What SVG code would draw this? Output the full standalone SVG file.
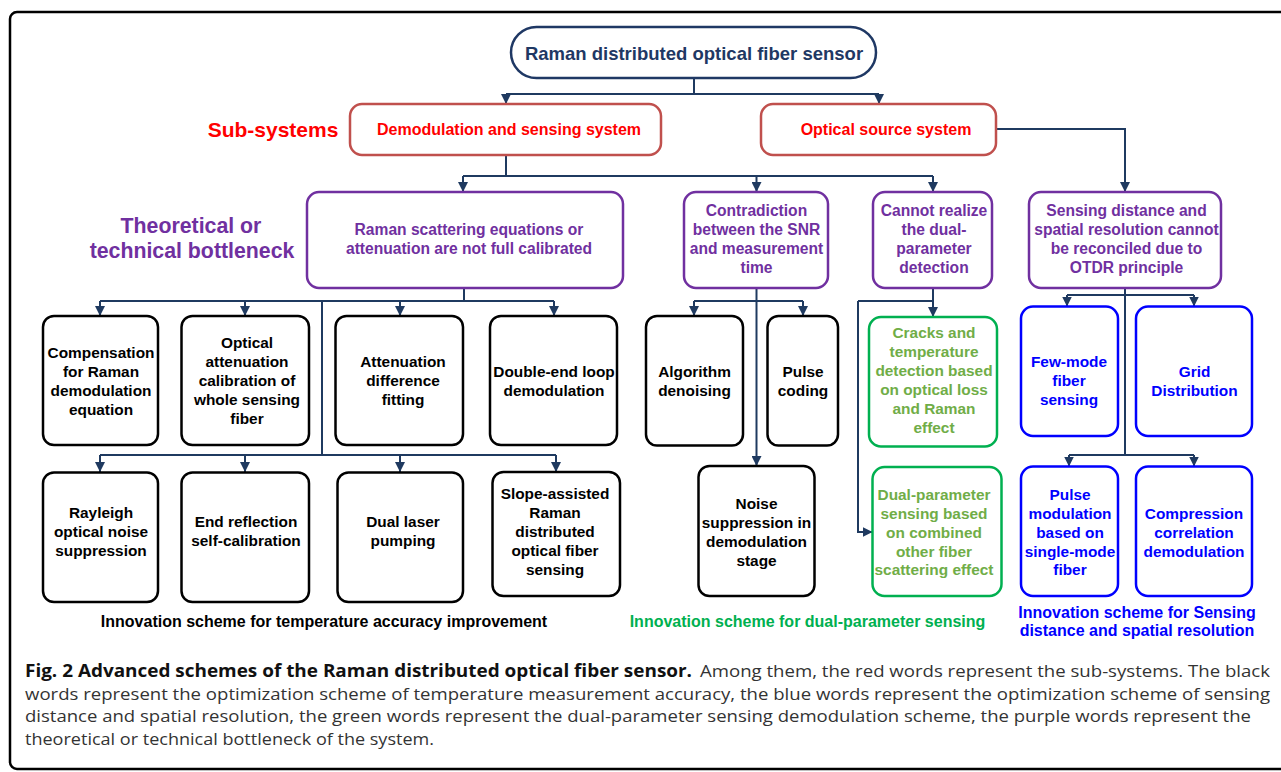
<svg xmlns="http://www.w3.org/2000/svg" width="1281" height="772" viewBox="0 0 1281 772">
  <defs>
    <marker id="arrow" markerUnits="userSpaceOnUse" markerWidth="10" markerHeight="10" refX="10" refY="5" orient="auto">
      <path d="M0,0 L10,5 L0,10 z" fill="#1f3a60"/>
    </marker>
  </defs>
  <style>
    text { font-family: "Liberation Sans", Arial, sans-serif; font-weight: bold; text-anchor: middle; }
    .frame { fill: none; stroke: #000; stroke-width: 2.5; }
    .box { fill: #fff; stroke-width: 2.5; }
    .root { stroke: #1f3864; }
    .sub { stroke: #c0504d; }
    .neck { stroke: #7030a0; }
    .blk { stroke: #000; }
    .grn { stroke: #00b050; }
    .blu { stroke: #0000ff; }
    .t-root { fill: #1f3864; font-size: 18.5px; }
    .t-sub { fill: #ff0000; font-size: 16px; }
    .t-neck { fill: #7030a0; font-size: 15.6px; }
    .t-blk { fill: #000; font-size: 15.4px; }
    .t-grn { fill: #70ad47; font-size: 15.4px; }
    .t-blu { fill: #0000ff; font-size: 15.4px; }
    .lbl-red { fill: #ff0000; font-size: 21px; }
    .lbl-pur { fill: #7030a0; font-size: 21.3px; }
    .leg { font-size: 16px; }
    .conn { fill: none; stroke: #1f3a60; stroke-width: 2; }
    .arr { fill: none; stroke: #1f3a60; stroke-width: 2; marker-end: url(#arrow); }
    .cap { font-family: "Open Sans", "Liberation Sans", sans-serif; font-size: 17px; text-anchor: start; font-weight: normal; fill: #333; }
    .cap-b { font-weight: bold; fill: #111; }
  </style>

  <!-- outer frame -->
  <rect class="frame" x="10" y="12" width="1290" height="757" rx="7"/>

  <!-- row labels -->
  <text class="lbl-red" x="273" y="136.5">Sub-systems</text>
  <text class="lbl-pur" x="191" y="233">Theoretical or</text>
  <text class="lbl-pur" x="192" y="258">technical bottleneck</text>

  <!-- connectors -->
  <g id="connectors">
    <path class="conn" d="M694 78 V94 M506 94 H879"/>
    <path class="arr" d="M506 94 V104"/>
    <path class="arr" d="M879 94 V104"/>

    <path class="conn" d="M506 155 V176 M463 176 H933"/>
    <path class="arr" d="M463 176 V192"/>
    <path class="arr" d="M756.5 176 V192"/>
    <path class="arr" d="M933 176 V192"/>

    <path class="arr" d="M996 129 H1125 V192"/>

    <path class="conn" d="M464 288 V301 M100 301 H554 M322 301 V455 M100 455 H556"/>
    <path class="arr" d="M100 301 V316"/>
    <path class="arr" d="M245 301 V316"/>
    <path class="arr" d="M400 301 V316"/>
    <path class="arr" d="M554 301 V316"/>
    <path class="arr" d="M100 455 V472"/>
    <path class="arr" d="M245 455 V472"/>
    <path class="arr" d="M400 455 V472"/>
    <path class="arr" d="M556 455 V472"/>

    <path class="conn" d="M694 301 H803"/>
    <path class="arr" d="M756.5 288 V466"/>
    <path class="arr" d="M694 301 V316"/>
    <path class="arr" d="M803 301 V316"/>

    <path class="conn" d="M933 288 V301 M858 301 H933"/>
    <path class="arr" d="M933 301 V317"/>
    <path class="arr" d="M858 301 V532 H872.5"/>

    <path class="conn" d="M1125 288 V455 M1067 295 H1194 M1069 455 H1194"/>
    <path class="arr" d="M1067 295 V306.5"/>
    <path class="arr" d="M1194 295 V306.5"/>
    <path class="arr" d="M1069 455 V466.5"/>
    <path class="arr" d="M1194 455 V466.5"/>
  </g>

  <!-- root -->
  <g id="root">
    <rect class="box root" x="511" y="27" width="365" height="51" rx="25.5"/>
    <text class="t-root" x="694" y="59.5">Raman distributed optical fiber sensor</text>
  </g>

  <!-- sub-systems -->
  <g id="demod-system">
    <rect class="box sub" x="350" y="104" width="311" height="51" rx="12"/>
    <text class="t-sub" x="509" y="135">Demodulation and sensing system</text>
  </g>
  <g id="source-system">
    <rect class="box sub" x="761" y="104" width="235" height="51" rx="12"/>
    <text class="t-sub" x="886" y="135">Optical source system</text>
  </g>

  <!-- bottlenecks -->
  <g id="bottleneck-calibration">
    <rect class="box neck" x="307" y="192" width="316" height="96" rx="12"/>
    <text class="t-neck" x="469"><tspan x="469" y="235">Raman scattering equations or</tspan><tspan x="469" y="254">attenuation are not full calibrated</tspan></text>
  </g>
  <g id="bottleneck-snr">
    <rect class="box neck" x="684" y="192" width="144" height="96" rx="12"/>
    <text class="t-neck"><tspan x="756.5" y="215.5">Contradiction</tspan><tspan x="756.5" y="234.5">between the SNR</tspan><tspan x="756.5" y="253.5">and measurement</tspan><tspan x="756.5" y="272.5">time</tspan></text>
  </g>
  <g id="bottleneck-dual">
    <rect class="box neck" x="873" y="192" width="119" height="96" rx="12"/>
    <text class="t-neck"><tspan x="934" y="215.5">Cannot realize</tspan><tspan x="934" y="234.5">the dual-</tspan><tspan x="934" y="253.5">parameter</tspan><tspan x="934" y="272.5">detection</tspan></text>
  </g>
  <g id="bottleneck-otdr">
    <rect class="box neck" x="1029" y="192" width="192" height="96" rx="12"/>
    <text class="t-neck"><tspan x="1126.5" y="216">Sensing distance and</tspan><tspan x="1126.5" y="235">spatial resolution cannot</tspan><tspan x="1126.5" y="254">be reconciled due to</tspan><tspan x="1126.5" y="273">OTDR principle</tspan></text>
  </g>

  <!-- temperature accuracy schemes, row 1 -->
  <g id="compensation">
    <rect class="box blk" x="43" y="316" width="115" height="129" rx="11"/>
    <text class="t-blk"><tspan x="101" y="357.5">Compensation</tspan><tspan x="101" y="376.5">for Raman</tspan><tspan x="101" y="395.5">demodulation</tspan><tspan x="101" y="414.5">equation</tspan></text>
  </g>
  <g id="attenuation-calibration">
    <rect class="box blk" x="181.5" y="316" width="127.5" height="129" rx="11"/>
    <text class="t-blk"><tspan x="247" y="347.5">Optical</tspan><tspan x="247" y="367">attenuation</tspan><tspan x="247" y="386">calibration of</tspan><tspan x="247" y="405">whole sensing</tspan><tspan x="247" y="424">fiber</tspan></text>
  </g>
  <g id="attenuation-fitting">
    <rect class="box blk" x="335.5" y="316" width="127.5" height="129" rx="11"/>
    <text class="t-blk"><tspan x="403" y="367">Attenuation</tspan><tspan x="403" y="386">difference</tspan><tspan x="403" y="405">fitting</tspan></text>
  </g>
  <g id="double-end">
    <rect class="box blk" x="490" y="316" width="127" height="129" rx="11"/>
    <text class="t-blk"><tspan x="554" y="376.5">Double-end loop</tspan><tspan x="554" y="395.5">demodulation</tspan></text>
  </g>

  <!-- temperature accuracy schemes, row 2 -->
  <g id="rayleigh">
    <rect class="box blk" x="43" y="472.5" width="115" height="129.5" rx="11"/>
    <text class="t-blk"><tspan x="101" y="518">Rayleigh</tspan><tspan x="101" y="537">optical noise</tspan><tspan x="101" y="556">suppression</tspan></text>
  </g>
  <g id="end-reflection">
    <rect class="box blk" x="181.5" y="472.5" width="127.5" height="129.5" rx="11"/>
    <text class="t-blk"><tspan x="246" y="527">End reflection</tspan><tspan x="246" y="546">self-calibration</tspan></text>
  </g>
  <g id="dual-laser">
    <rect class="box blk" x="337.5" y="472.5" width="125.5" height="129.5" rx="11"/>
    <text class="t-blk"><tspan x="403" y="527">Dual laser</tspan><tspan x="403" y="546">pumping</tspan></text>
  </g>
  <g id="slope-assisted">
    <rect class="box blk" x="492.5" y="472" width="127.5" height="124" rx="11"/>
    <text class="t-blk"><tspan x="555" y="498.5">Slope-assisted</tspan><tspan x="555" y="517.5">Raman</tspan><tspan x="555" y="536.5">distributed</tspan><tspan x="555" y="555.5">optical fiber</tspan><tspan x="555" y="574.5">sensing</tspan></text>
  </g>

  <!-- SNR schemes -->
  <g id="algorithm-denoising">
    <rect class="box blk" x="646" y="316" width="97" height="129.5" rx="11"/>
    <text class="t-blk"><tspan x="694.5" y="376.5">Algorithm</tspan><tspan x="694.5" y="395.5">denoising</tspan></text>
  </g>
  <g id="pulse-coding">
    <rect class="box blk" x="767.5" y="316" width="70.5" height="129.5" rx="11"/>
    <text class="t-blk"><tspan x="803" y="376.5">Pulse</tspan><tspan x="803" y="395.5">coding</tspan></text>
  </g>
  <g id="noise-suppression">
    <rect class="box blk" x="698.5" y="466" width="116" height="130" rx="11"/>
    <text class="t-blk"><tspan x="756.5" y="508.5">Noise</tspan><tspan x="756.5" y="527.5">suppression in</tspan><tspan x="756.5" y="546.5">demodulation</tspan><tspan x="756.5" y="565.5">stage</tspan></text>
  </g>

  <!-- dual-parameter schemes -->
  <g id="cracks-temperature">
    <rect class="box grn" x="869" y="317" width="128" height="129.5" rx="12"/>
    <text class="t-grn"><tspan x="934" y="337.5">Cracks and</tspan><tspan x="934" y="357">temperature</tspan><tspan x="934" y="376">detection based</tspan><tspan x="934" y="395">on optical loss</tspan><tspan x="934" y="414">and Raman</tspan><tspan x="934" y="433">effect</tspan></text>
  </g>
  <g id="combined-scattering">
    <rect class="box grn" x="872.5" y="467" width="129" height="129" rx="12"/>
    <text class="t-grn"><tspan x="934" y="499.5">Dual-parameter</tspan><tspan x="934" y="518.5">sensing based</tspan><tspan x="934" y="537.5">on combined</tspan><tspan x="934" y="556.5">other fiber</tspan><tspan x="934" y="575">scattering effect</tspan></text>
  </g>

  <!-- distance and resolution schemes -->
  <g id="few-mode">
    <rect class="box blu" x="1021" y="306.5" width="97" height="129.5" rx="12"/>
    <text class="t-blu"><tspan x="1069" y="367">Few-mode</tspan><tspan x="1069" y="386">fiber</tspan><tspan x="1069" y="405">sensing</tspan></text>
  </g>
  <g id="grid-distribution">
    <rect class="box blu" x="1136" y="306.5" width="116" height="129.5" rx="12"/>
    <text class="t-blu"><tspan x="1194.5" y="376.5">Grid</tspan><tspan x="1194.5" y="395.5">Distribution</tspan></text>
  </g>
  <g id="pulse-modulation">
    <rect class="box blu" x="1021" y="466.5" width="97" height="129.5" rx="12"/>
    <text class="t-blu"><tspan x="1070" y="499.5">Pulse</tspan><tspan x="1070" y="518.5">modulation</tspan><tspan x="1070" y="537.5">based on</tspan><tspan x="1070" y="556.5">single-mode</tspan><tspan x="1070" y="575">fiber</tspan></text>
  </g>
  <g id="compression-correlation">
    <rect class="box blu" x="1136" y="466.5" width="116" height="129.5" rx="12"/>
    <text class="t-blu"><tspan x="1194" y="518.5">Compression</tspan><tspan x="1194" y="537.5">correlation</tspan><tspan x="1194" y="556.5">demodulation</tspan></text>
  </g>

  <!-- group legends -->
  <text class="leg" x="324" y="626.5" fill="#000">Innovation scheme for temperature accuracy improvement</text>
  <text class="leg" x="807.5" y="627" fill="#00b050">Innovation scheme for dual-parameter sensing</text>
  <text class="leg" x="1137" y="617.5" fill="#0000ff">Innovation scheme for Sensing</text>
  <text class="leg" x="1137" y="636" fill="#0000ff">distance and spatial resolution</text>

  <!-- figure caption -->
  <text class="cap cap-b" x="25" y="677" textLength="667" lengthAdjust="spacingAndGlyphs">Fig. 2 Advanced schemes of the Raman distributed optical fiber sensor.</text>
  <text class="cap" x="700" y="677" textLength="570" lengthAdjust="spacingAndGlyphs">Among them, the red words represent the sub-systems. The black</text>
  <text class="cap" x="25" y="699.5" textLength="1245" lengthAdjust="spacingAndGlyphs">words represent the optimization scheme of temperature measurement accuracy, the blue words represent the optimization scheme of sensing</text>
  <text class="cap" x="25" y="722" textLength="1226" lengthAdjust="spacingAndGlyphs">distance and spatial resolution, the green words represent the dual-parameter sensing demodulation scheme, the purple words represent the</text>
  <text class="cap" x="25" y="744.5" textLength="409" lengthAdjust="spacingAndGlyphs">theoretical or technical bottleneck of the system.</text>
</svg>
